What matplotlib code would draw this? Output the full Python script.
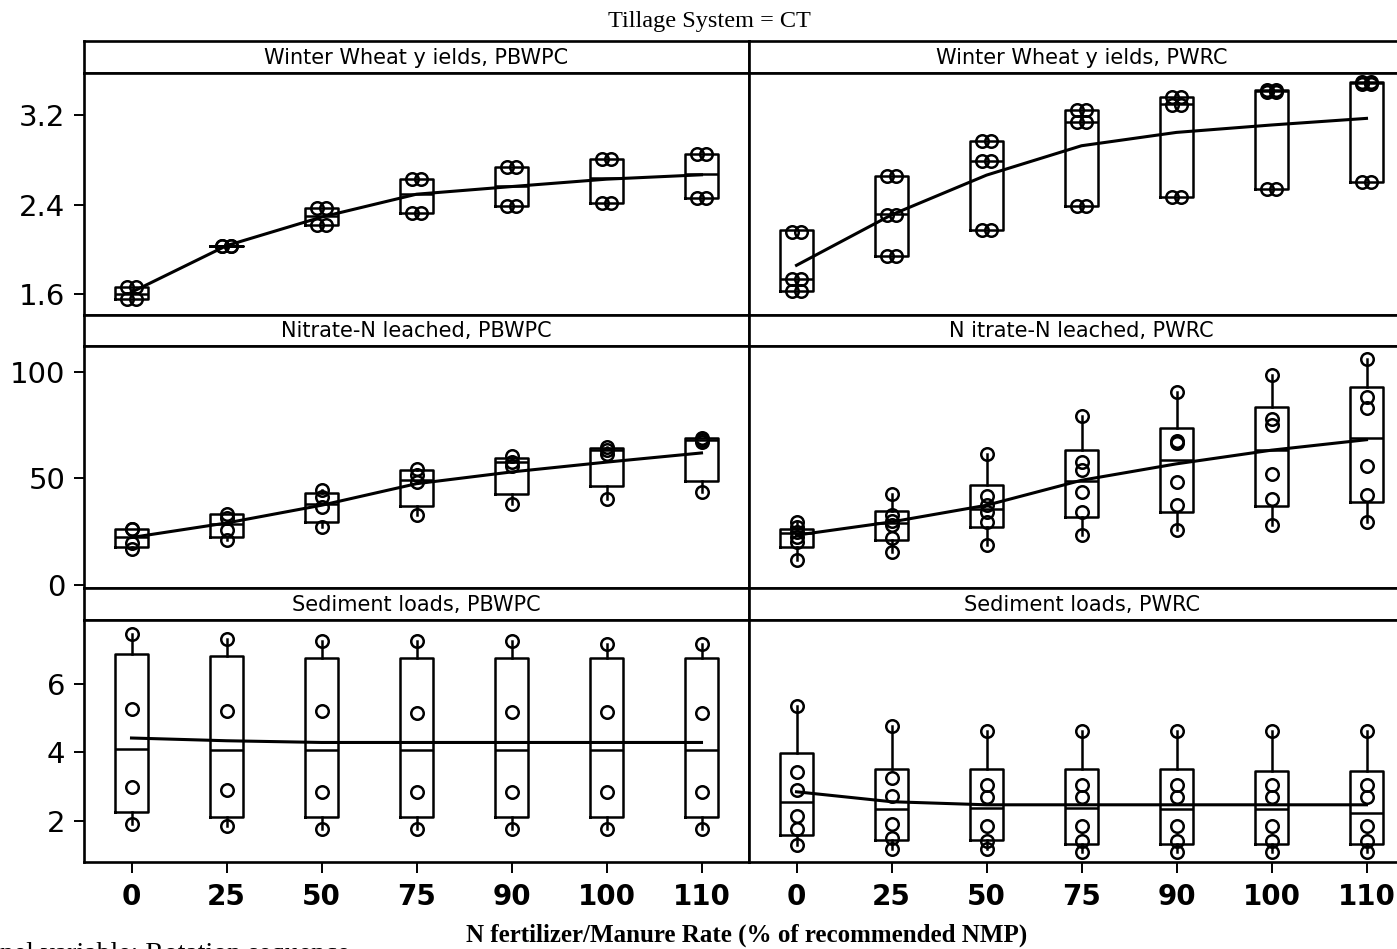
import matplotlib
matplotlib.use("Agg")
import matplotlib.pyplot as plt

# ---------------- data ----------------
rates = ["0", "25", "50", "75", "90", "100", "110"]

# Winter wheat yields, PBWPC (each level = a pair of observations)
ww_pb_pts = [[1.67, 1.556], [2.035, 2.035], [2.375, 2.222], [2.628, 2.322],
             [2.737, 2.393], [2.807, 2.42], [2.848, 2.457]]
ww_pb_q1 = [1.556, 2.035, 2.222, 2.322, 2.393, 2.42, 2.457]
ww_pb_med = [1.60, 2.035, 2.30, 2.494, 2.568, 2.634, 2.673]
ww_pb_q3 = [1.67, 2.035, 2.375, 2.628, 2.737, 2.807, 2.848]
ww_pb_mean = [1.62, 2.035, 2.29, 2.494, 2.562, 2.628, 2.667]

# Winter wheat yields, PWRC
ww_pw_pts = [[2.16, 1.741, 1.63], [2.652, 2.31, 1.943], [2.966, 2.792, 2.177],
             [3.248, 3.135, 2.385], [3.358, 3.29, 2.467], [3.42, 3.405, 2.54],
             [3.494, 3.478, 2.60]]
ww_pw_q1 = [1.63, 1.943, 2.177, 2.385, 2.467, 2.54, 2.60]
ww_pw_med = [1.741, 2.32, 2.792, 3.135, 3.30, 3.417, 3.486]
ww_pw_q3 = [2.172, 2.652, 2.97, 3.248, 3.358, 3.426, 3.492]
ww_pw_mean = [1.86, 2.31, 2.664, 2.926, 3.045, 3.111, 3.17]

# Nitrate-N leached, PBWPC
no_pb_pts = [[26.2, 26.2, 19.5, 16.7], [33.5, 31.5, 26.0, 21.0],
             [44.4, 41.3, 36.6, 27.2], [54.5, 51.4, 48.3, 32.7],
             [60.5, 57.6, 56.0, 37.8], [64.7, 63.5, 61.5, 40.5],
             [69.0, 68.0, 67.0, 43.6]]
no_pb_q1 = [17.9, 22.6, 29.6, 37.1, 42.8, 46.4, 48.7]
no_pb_med = [22.6, 28.8, 38.1, 49.1, 57.6, 63.2, 68.1]
no_pb_q3 = [26.2, 33.5, 43.1, 53.7, 59.7, 64.4, 69.0]
no_pb_mean = [22.3, 29.1, 37.4, 47.5, 53.0, 57.6, 61.9]

# Nitrate-N leached, PWRC
no_pw_pts = [[29.6, 27.2, 24.9, 22.6, 20.3, 11.8],
             [42.8, 33.0, 30.0, 28.0, 22.0, 15.6],
             [61.5, 41.6, 37.4, 34.3, 29.6, 18.7],
             [79.0, 57.6, 53.7, 43.6, 34.3, 23.4],
             [90.3, 67.5, 66.5, 48.3, 37.7, 25.7],
             [98.6, 77.9, 74.8, 52.2, 40.5, 28.0],
             [105.9, 88.3, 82.9, 55.6, 42.0, 29.6]]
no_pw_q1 = [17.9, 21.3, 27.2, 31.9, 34.3, 37.1, 38.9]
no_pw_med = [24.4, 29.1, 35.8, 48.7, 58.4, 63.4, 69.0]
no_pw_q3 = [26.2, 34.6, 46.7, 63.4, 73.7, 83.3, 93.0]
no_pw_mean = [23.4, 29.6, 37.4, 49.1, 56.8, 63.2, 68.1]

# Sediment loads, PBWPC
sd_pb_pts = [[7.47, 5.28, 2.98, 1.90], [7.31, 5.21, 2.90, 1.85],
             [7.24, 5.21, 2.83, 1.77], [7.24, 5.14, 2.83, 1.77],
             [7.24, 5.17, 2.83, 1.77], [7.17, 5.17, 2.83, 1.77],
             [7.17, 5.14, 2.83, 1.77]]
sd_pb_q1 = [2.26, 2.10, 2.10, 2.10, 2.10, 2.10, 2.10]
sd_pb_med = [4.11, 4.06, 4.06, 4.06, 4.06, 4.06, 4.06]
sd_pb_q3 = [6.88, 6.81, 6.75, 6.75, 6.75, 6.75, 6.75]
sd_pb_mean = [4.42, 4.34, 4.29, 4.29, 4.29, 4.29, 4.29]

# Sediment loads, PWRC
sd_pw_pts = [[5.36, 3.42, 2.90, 2.15, 1.76, 1.30],
             [4.77, 3.26, 2.74, 1.90, 1.51, 1.17],
             [4.62, 3.05, 2.69, 1.85, 1.40, 1.17],
             [4.62, 3.05, 2.69, 1.85, 1.41, 1.09],
             [4.62, 3.05, 2.69, 1.85, 1.41, 1.09],
             [4.62, 3.05, 2.69, 1.85, 1.41, 1.09],
             [4.62, 3.05, 2.69, 1.85, 1.41, 1.09]]
sd_pw_q1 = [1.58, 1.43, 1.43, 1.33, 1.33, 1.33, 1.33]
sd_pw_med = [2.54, 2.36, 2.39, 2.39, 2.36, 2.34, 2.24]
sd_pw_q3 = [3.98, 3.52, 3.52, 3.52, 3.52, 3.45, 3.45]
sd_pw_mean = [2.85, 2.56, 2.47, 2.47, 2.47, 2.47, 2.47]

panel_titles = [["Winter Wheat y ields, PBWPC", "Winter Wheat y ields, PWRC"],
                ["Nitrate-N leached, PBWPC", "N itrate-N leached, PWRC"],
                ["Sediment loads, PBWPC", "Sediment loads, PWRC"]]
row_yticks = [[1.6, 2.4, 3.2], [0, 50, 100], [2, 4, 6]]
row_yticklabels = [["1.6", "2.4", "3.2"], ["0", "50", "100"], ["2", "4", "6"]]
row_ylims = [(1.42, 3.579), (-1.5, 111.9), (0.80, 7.87)]

panels = [
    [(ww_pb_pts, ww_pb_q1, ww_pb_med, ww_pb_q3, ww_pb_mean, True),
     (ww_pw_pts, ww_pw_q1, ww_pw_med, ww_pw_q3, ww_pw_mean, True)],
    [(no_pb_pts, no_pb_q1, no_pb_med, no_pb_q3, no_pb_mean, False),
     (no_pw_pts, no_pw_q1, no_pw_med, no_pw_q3, no_pw_mean, False)],
    [(sd_pb_pts, sd_pb_q1, sd_pb_med, sd_pb_q3, sd_pb_mean, False),
     (sd_pw_pts, sd_pw_q1, sd_pw_med, sd_pw_q3, sd_pw_mean, False)],
]

# ---------------- layout ----------------
W, H = 1397, 949
fig = plt.figure(figsize=(W / 100, H / 100), dpi=100)
fig.patch.set_facecolor("white")

def fx(px):
    return px / W

top0 = 41.0
row_h = (862.0 - 41.0) / 3
hdr_h = 31.5
left0 = 84.0
col_w = 665.0
spine_lw = 1.9
box_lw = 1.8
positions = list(range(len(rates)))

for r in range(3):
    ytop = top0 + r * row_h
    yh = ytop + hdr_h
    yb = ytop + row_h
    for c in range(2):
        x0 = left0 + c * col_w
        hax = fig.add_axes([fx(x0), 1 - yh / H, fx(col_w), hdr_h / H])
        hax.set_xticks([])
        hax.set_yticks([])
        for s in hax.spines.values():
            s.set_linewidth(spine_lw)
        hax.text(0.5, 0.47, panel_titles[r][c], ha="center", va="center",
                 fontsize=15, family="DejaVu Sans", transform=hax.transAxes)

        ax = fig.add_axes([fx(x0), 1 - yb / H, fx(col_w), (yb - yh) / H])
        for s in ax.spines.values():
            s.set_linewidth(spine_lw)
        pts, q1, med, q3, mean, paired = panels[r][c]
        stats = []
        for i in range(len(rates)):
            stats.append(dict(med=med[i], q1=q1[i], q3=q3[i],
                              whislo=min(min(pts[i]), q1[i]),
                              whishi=max(max(pts[i]), q3[i]), fliers=[]))
        ax.bxp(stats, positions=positions, widths=0.35, showcaps=False,
               showfliers=False,
               boxprops=dict(color="black", linewidth=box_lw),
               medianprops=dict(color="black", linewidth=box_lw),
               whiskerprops=dict(color="black", linewidth=box_lw),
               manage_ticks=False)
        for i in range(len(rates)):
            if paired:
                xs, ys = [], []
                for v in pts[i]:
                    xs += [i - 0.05, i + 0.05]
                    ys += [v, v]
            else:
                xs = [i] * len(pts[i])
                ys = pts[i]
            ax.plot(xs, ys, linestyle="none", marker="o", markersize=9,
                    markerfacecolor="none", markeredgecolor="black",
                    markeredgewidth=1.8, zorder=3)
        ax.plot(positions, mean, color="black", linewidth=2.2, zorder=4)

        ax.set_xlim(-0.5, 6.5)
        ax.set_ylim(*row_ylims[r])
        if c == 0:
            ax.set_yticks(row_yticks[r])
            ax.set_yticklabels(row_yticklabels[r], fontsize=21,
                               family="DejaVu Sans")
            ax.tick_params(axis="y", direction="out", length=7.5, width=1.4,
                           pad=6)
        else:
            ax.set_yticks([])
        if r == 2:
            ax.set_xticks(positions)
            ax.set_xticklabels(rates, fontsize=20, fontweight="bold",
                               family="DejaVu Sans")
            ax.tick_params(axis="x", direction="out", length=8, width=1.4,
                           pad=7)
        else:
            ax.set_xticks([])

fig.text(709 / W, 1 - 27 / H, "Tillage System = CT", ha="center",
         va="baseline", fontsize=17.5, family="Liberation Serif")
fig.text(747 / W, 1 - 942 / H, "N fertilizer/Manure Rate (% of recommended NMP)",
         ha="center", va="baseline", fontsize=18, fontweight="bold",
         family="Liberation Serif")
fig.text(-28 / W, 1 - 961 / H, "Panel variable: Rotation sequence",
         ha="left", va="baseline", fontsize=20, family="Liberation Serif")

fig.savefig("out.png", dpi=100)
